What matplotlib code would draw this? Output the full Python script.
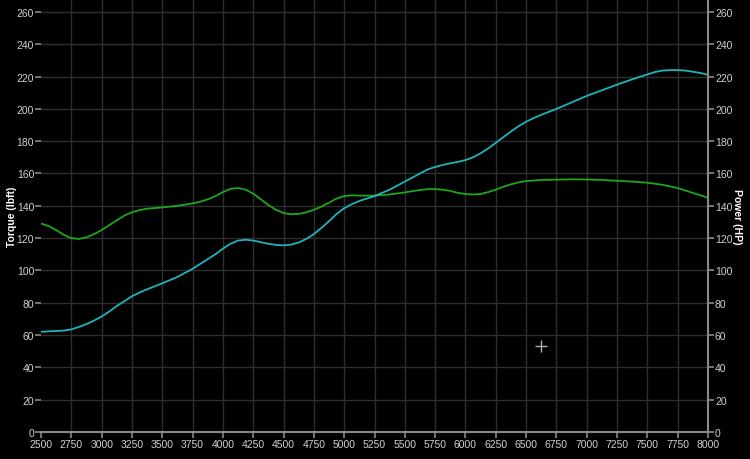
import matplotlib.pyplot as plt

# torque curve (rpm, lbft)
torque_rpm = [2500, 2562, 2625, 2688, 2750, 2812, 2875, 2938, 3000, 3062, 3125,
              3188, 3250, 3312, 3375, 3500, 3625, 3750, 3812, 3875, 3938, 4000,
              4062, 4125, 4188, 4250, 4312, 4375, 4438, 4500, 4562, 4625, 4688,
              4750, 4812, 4875, 4938, 5000, 5062, 5125, 5250, 5375, 5500, 5625,
              5688, 5750, 5812, 5875, 5938, 6000, 6062, 6125, 6188, 6250, 6312,
              6375, 6438, 6500, 6625, 6750, 6875, 7000, 7125, 7250, 7375, 7500,
              7625, 7688, 7750, 7812, 7875, 7938, 8000]
torque = [129, 127.5, 125, 122, 120, 119.5, 120.5, 122.5, 125, 128, 131,
          134, 136, 137.3, 138.2, 139, 140, 141.5, 142.5, 144, 146, 148.5,
          150.5, 151, 150, 147.5, 144, 140.5, 137.5, 135.5, 134.8, 135, 136,
          137.5, 139.5, 142, 144.5, 146, 146.5, 146.3, 146.3, 147, 148.3, 149.8,
          150.3, 150.3, 150, 149.2, 148, 147.3, 147, 147.3, 148.5, 150, 151.8,
          153.3, 154.5, 155.3, 156, 156.2, 156.4, 156.3, 156, 155.5, 155, 154.3,
          153, 152, 151, 149.5, 148, 146.5, 145]

# power curve (rpm, HP)
power_rpm = [2500, 2562, 2625, 2688, 2750, 2812, 2875, 2938, 3000, 3062, 3125,
             3188, 3250, 3312, 3375, 3438, 3500, 3625, 3750, 3812, 3875, 3938,
             4000, 4062, 4125, 4188, 4250, 4312, 4375, 4438, 4500, 4562, 4625,
             4688, 4750, 4812, 4875, 4938, 5000, 5062, 5125, 5188, 5250, 5375,
             5500, 5625, 5688, 5750, 5812, 5875, 5938, 6000, 6062, 6125, 6188,
             6250, 6312, 6375, 6438, 6500, 6562, 6625, 6750, 6875, 7000, 7125,
             7250, 7375, 7500, 7562, 7625, 7688, 7750, 7812, 7875, 7938, 8000]
power = [62, 62.3, 62.5, 62.8, 63.5, 65, 66.8, 69, 71.5, 74.5, 78,
         81, 84, 86.3, 88.3, 90.2, 92, 96, 101, 104, 107, 110,
         113.5, 116.5, 118.5, 119, 118.5, 117.5, 116.5, 115.8, 115.5, 116, 117.3,
         119.5, 122.5, 126.3, 130.5, 135, 138.5, 141, 143, 144.5, 146, 150,
         155, 160, 162.5, 164, 165.3, 166.3, 167.2, 168.3, 170, 172.5, 175.5,
         179, 182.5, 186, 189.3, 192, 194.3, 196.3, 200, 204, 208, 211.5,
         215, 218.3, 221.3, 222.8, 223.7, 224, 224, 223.7, 223, 222.2, 221]

x_ticks = list(range(2500, 8001, 250))
y_ticks = list(range(0, 261, 20))
cursor = (6625, 53)

plt.rcParams['font.family'] = ['Liberation Sans', 'DejaVu Sans']

fig = plt.figure(figsize=(7.5, 4.6), dpi=100, facecolor='black')
ax = fig.add_axes([0.0547, 0.0587, 0.8893, 0.9413], facecolor='black')

ax.plot(torque_rpm, torque, color='#1ea51e', lw=1.3)
ax.plot(power_rpm, power, color='#1eb4bc', lw=1.3)
ax.plot(*cursor, marker='+', ms=8, mew=1.0, color='#b0b0b0')

ax.set_xlim(2500, 8000)
ax.set_ylim(0, 268)
ax.set_xticks(x_ticks)
ax.set_yticks(y_ticks)
ax.grid(True, color='#2e2e2e', lw=1)
ax.set_axisbelow(True)
ax.get_xgridlines()[0].set_visible(False)

for side in ['left', 'top']:
    ax.spines[side].set_visible(False)
for side in ['bottom', 'right']:
    ax.spines[side].set_color('#8a8a8a')
    ax.spines[side].set_linewidth(1.5)

ax.tick_params(colors='#8a8a8a', labelcolor='#d0d0d0', labelsize=7.5,
               length=4, width=1.2, pad=1)
ax.set_ylabel('Torque (lbft)', color='white', fontsize=7.5, fontweight='bold',
              va='center')
ax.yaxis.set_label_coords(-0.0435, 0.5)

ax2 = ax.twinx()
ax2.set_ylim(ax.get_ylim())
ax2.set_yticks(y_ticks)
for side in ['left', 'top', 'bottom', 'right']:
    ax2.spines[side].set_visible(False)
ax2.tick_params(colors='#8a8a8a', labelcolor='#d0d0d0', labelsize=7.5,
                length=4, width=1.2, pad=1)
ax2.set_ylabel('Power (HP)', color='white', fontsize=7.5, fontweight='bold',
               rotation=-90, va='center')
ax2.yaxis.set_label_coords(1.044, 0.5)

fig.savefig('out.png', facecolor='black')
